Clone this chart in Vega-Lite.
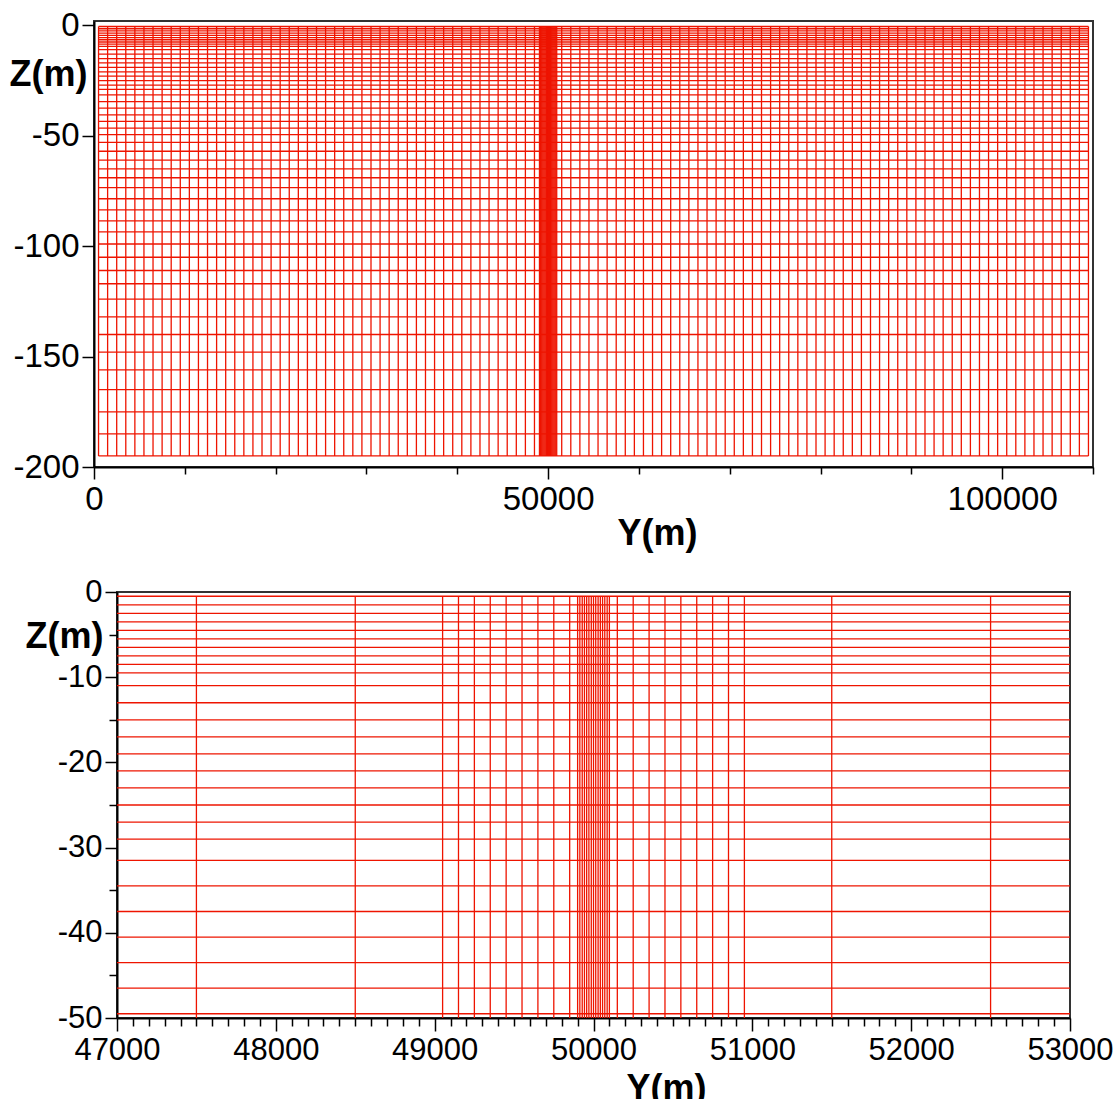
{
  "$schema": "https://vega.github.io/schema/vega-lite/v6.json",
  "background": "white",
  "padding": {"left": 8, "top": 8, "right": 20, "bottom": 0},
  "bounds": "flush",
  "center": true,
  "spacing": 125,
  "config": {
    "font": "Liberation Sans",
    "view": {"stroke": "#333", "strokeWidth": 2},
    "axis": {
      "grid": false,
      "domainColor": "#000",
      "domainWidth": 2,
      "tickColor": "#000",
      "tickWidth": 1.5,
      "labelFont": "Liberation Sans",
      "labelColor": "#000",
      "titleFont": "Liberation Sans",
      "titleFontWeight": "bold",
      "titleColor": "#000",
      "titleFontSize": 36,
      "labelFlush": false
    }
  },
  "datasets": {
    "cols": [
      {"y": 500},{"y": 1500},{"y": 2500},{"y": 3500},{"y": 4500},{"y": 5500},{"y": 6500},{"y": 7500},{"y": 8500},{"y": 9500},
      {"y": 10500},{"y": 11500},{"y": 12500},{"y": 13500},{"y": 14500},{"y": 15500},{"y": 16500},{"y": 17500},{"y": 18500},{"y": 19500},
      {"y": 20500},{"y": 21500},{"y": 22500},{"y": 23500},{"y": 24500},{"y": 25500},{"y": 26500},{"y": 27500},{"y": 28500},{"y": 29500},
      {"y": 30500},{"y": 31500},{"y": 32500},{"y": 33500},{"y": 34500},{"y": 35500},{"y": 36500},{"y": 37500},{"y": 38500},{"y": 39500},
      {"y": 40500},{"y": 41500},{"y": 42500},{"y": 43500},{"y": 44500},{"y": 45500},{"y": 46500},{"y": 47500},{"y": 48500},
      {"y": 49050},{"y": 49150},{"y": 49250},{"y": 49350},{"y": 49450},{"y": 49550},{"y": 49650},{"y": 49750},{"y": 49850},
      {"y": 49900},{"y": 49914},{"y": 49929},{"y": 49943},{"y": 49957},{"y": 49971},{"y": 49986},{"y": 50000},{"y": 50014},{"y": 50029},{"y": 50043},{"y": 50057},{"y": 50071},{"y": 50086},{"y": 50100},
      {"y": 50150},{"y": 50250},{"y": 50350},{"y": 50450},{"y": 50550},{"y": 50650},{"y": 50750},{"y": 50850},{"y": 50950},
      {"y": 51500},{"y": 52500},{"y": 53500},{"y": 54500},{"y": 55500},{"y": 56500},{"y": 57500},{"y": 58500},{"y": 59500},
      {"y": 60500},{"y": 61500},{"y": 62500},{"y": 63500},{"y": 64500},{"y": 65500},{"y": 66500},{"y": 67500},{"y": 68500},{"y": 69500},
      {"y": 70500},{"y": 71500},{"y": 72500},{"y": 73500},{"y": 74500},{"y": 75500},{"y": 76500},{"y": 77500},{"y": 78500},{"y": 79500},
      {"y": 80500},{"y": 81500},{"y": 82500},{"y": 83500},{"y": 84500},{"y": 85500},{"y": 86500},{"y": 87500},{"y": 88500},{"y": 89500},
      {"y": 90500},{"y": 91500},{"y": 92500},{"y": 93500},{"y": 94500},{"y": 95500},{"y": 96500},{"y": 97500},{"y": 98500},{"y": 99500},
      {"y": 100500},{"y": 101500},{"y": 102500},{"y": 103500},{"y": 104500},{"y": 105500},{"y": 106500},{"y": 107500},{"y": 108500},{"y": 109500}
    ],
    "layers": [
      {"z": -0.5},{"z": -1.5},{"z": -2.5},{"z": -3.5},{"z": -4.5},{"z": -5.5},{"z": -6.5},{"z": -7.5},{"z": -8.5},{"z": -9.5},
      {"z": -11},{"z": -13},{"z": -15},{"z": -17},{"z": -19},{"z": -21},{"z": -23},{"z": -25},{"z": -27},{"z": -29},
      {"z": -31.5},{"z": -34.5},{"z": -37.5},{"z": -40.5},{"z": -43.5},{"z": -46.5},{"z": -49.5},
      {"z": -53},{"z": -57},{"z": -61},{"z": -65},{"z": -69},
      {"z": -73.5},{"z": -78.5},{"z": -83.5},{"z": -88.5},{"z": -93.5},
      {"z": -99},{"z": -105},{"z": -111},{"z": -117},
      {"z": -124},{"z": -132},{"z": -140},{"z": -148},{"z": -156},
      {"z": -165},{"z": -175},{"z": -185},{"z": -195}
    ]
  },
  "vconcat": [
    {
      "width": 999,
      "height": 446,
      "layer": [
        {
          "data": {"name": "cols"},
          "mark": {"type": "rule", "color": "#ee1400", "strokeWidth": 1.3, "clip": true},
          "encoding": {
            "x": {
              "field": "y", "type": "quantitative",
              "scale": {"domain": [0, 110000], "nice": false, "zero": false},
              "axis": {
                "title": "Y(m)",
                "values": [0,10000,20000,30000,40000,50000,60000,70000,80000,90000,100000,110000],
                "labelExpr": "datum.value % 50000 === 0 ? '' + datum.value : ''",
                "labelOverlap": false,
                "labelFontSize": 33,
                "labelPadding": 4,
                "tickSize": {"condition": {"test": "datum.value % 50000 === 0", "value": 12}, "value": 7},
                "titleX": 563, "titleY": 66, "titleAlign": "center", "titleBaseline": "middle"
              }
            },
            "y": {
              "datum": -0.5, "type": "quantitative",
              "scale": {"domain": [-200, 2], "nice": false, "zero": false},
              "axis": {
                "title": "Z(m)",
                "values": [0,-50,-100,-150,-200],
                "labelExpr": "'' + datum.value",
                "labelOverlap": false,
                "labelFontSize": 33,
                "labelPadding": 3,
                "tickSize": 12,
                "titleAngle": 0, "titleX": -46, "titleY": 53, "titleAlign": "center", "titleBaseline": "middle"
              }
            },
            "y2": {"datum": -195}
          }
        },
        {
          "data": {"name": "layers"},
          "mark": {"type": "rule", "color": "#ee1400", "strokeWidth": 1.3, "clip": true},
          "encoding": {
            "y": {"field": "z", "type": "quantitative", "title": "Z(m)"},
            "x": {"datum": 500, "type": "quantitative", "title": "Y(m)"},
            "x2": {"datum": 109500}
          }
        }
      ]
    },
    {
      "width": 953,
      "height": 426,
      "resolve": {"axis": {"x": "independent"}},
      "layer": [
        {
          "data": {"name": "cols"},
          "mark": {"type": "rule", "color": "#ee1400", "strokeWidth": 1.3, "clip": true},
          "encoding": {
            "x": {
              "field": "y", "type": "quantitative",
              "scale": {"domain": [47000, 53000], "nice": false, "zero": false},
              "axis": {
                "orient": "bottom",
                "title": "Y(m)",
                "values": [47000,48000,49000,50000,51000,52000,53000],
                "labelExpr": "'' + datum.value",
                "labelOverlap": false,
                "labelFontSize": 31,
                "labelPadding": 4,
                "tickSize": 13,
                "titleX": 549, "titleY": 70, "titleAlign": "center", "titleBaseline": "middle"
              }
            },
            "y": {
              "datum": -0.5, "type": "quantitative",
              "scale": {"domain": [-50, 0], "nice": false, "zero": false},
              "axis": {
                "title": "Z(m)",
                "values": [0,-5,-10,-15,-20,-25,-30,-35,-40,-45,-50],
                "labelExpr": "datum.value % 10 === 0 ? '' + datum.value : ''",
                "labelOverlap": false,
                "labelFontSize": 31,
                "labelPadding": 3,
                "tickSize": {"condition": {"test": "datum.value % 10 === 0", "value": 12}, "value": 8},
                "titleAngle": 0, "titleX": -53, "titleY": 44, "titleAlign": "center", "titleBaseline": "middle"
              }
            },
            "y2": {"datum": -195}
          }
        },
        {
          "data": {"name": "layers"},
          "mark": {"type": "rule", "color": "#ee1400", "strokeWidth": 1.3, "clip": true},
          "encoding": {
            "y": {"field": "z", "type": "quantitative", "title": "Z(m)"},
            "x": {
              "datum": 500, "type": "quantitative",
              "axis": {
                "orient": "bottom",
                "title": null,
                "labels": false,
                "domain": false,
                "tickSize": 8,
                "values": [47100,47200,47300,47400,47500,47600,47700,47800,47900,48100,48200,48300,48400,48500,48600,48700,48800,48900,49100,49200,49300,49400,49500,49600,49700,49800,49900,50100,50200,50300,50400,50500,50600,50700,50800,50900,51100,51200,51300,51400,51500,51600,51700,51800,51900,52100,52200,52300,52400,52500,52600,52700,52800,52900]
              }
            },
            "x2": {"datum": 109500}
          }
        }
      ]
    }
  ]
}
